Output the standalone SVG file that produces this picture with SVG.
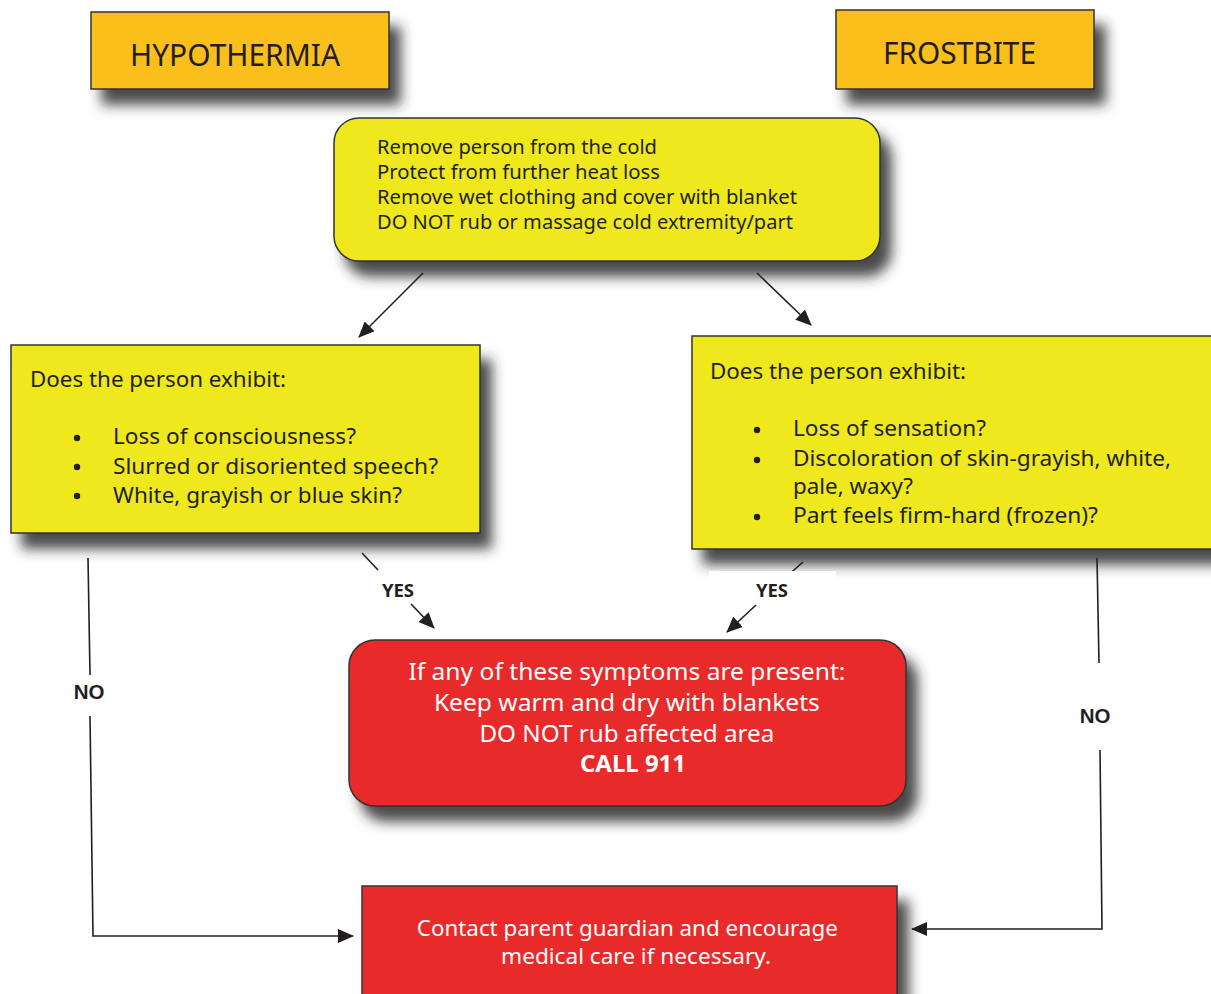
<svg xmlns="http://www.w3.org/2000/svg" width="1211" height="994" viewBox="0 0 1211 994">
  <defs>
    <filter id="shadow" x="-10%" y="-20%" width="130%" height="170%">
      <feGaussianBlur in="SourceAlpha" stdDeviation="6.5"/>
      <feOffset dx="11" dy="15" result="blur"/>
      <feFlood flood-color="#2a2a2a" flood-opacity="0.85"/>
      <feComposite in2="blur" operator="in" result="sh"/>
      <feMerge>
        <feMergeNode in="sh"/>
        <feMergeNode in="SourceGraphic"/>
      </feMerge>
    </filter>
    <marker id="arrow" markerUnits="userSpaceOnUse" markerWidth="18" markerHeight="14" refX="15" refY="7" orient="auto">
      <path d="M0,0 L16,7 L0,14 Z" fill="#231f20"/>
    </marker>
  </defs>
  <style>
    .title { fill: #fbbf1c; stroke: #333; stroke-width: 1.5; }
    .step { fill: #efe81a; stroke: #333; stroke-width: 1.5; }
    .alert { fill: #e8292b; stroke: #333; stroke-width: 1.5; }
    .t { font-family: "Noto Sans", "Open Sans", sans-serif; fill: #231f20; }
    .w { font-family: "Noto Sans", "Open Sans", sans-serif; fill: #ffffff; }
    .lbl { font-family: "Noto Sans", "Liberation Sans", sans-serif; font-weight: bold; font-size: 18.5px; fill: #231f20; }
    .no { font-family: "Liberation Sans", Arial, sans-serif; font-weight: bold; font-size: 20.5px; fill: #231f20; }
    .line { fill: none; stroke: #231f20; stroke-width: 1.6; }
  </style>
  <rect width="1211" height="994" fill="#ffffff"/>

  <g id="hypothermia">
    <rect class="title" x="91" y="12" width="298" height="77" filter="url(#shadow)"/>
    <text class="t" x="130" y="66" font-size="31" textLength="210" lengthAdjust="spacingAndGlyphs">HYPOTHERMIA</text>
  </g>

  <g id="frostbite">
    <rect class="title" x="836" y="10" width="258" height="79" filter="url(#shadow)"/>
    <text class="t" x="883" y="64" font-size="31" textLength="153" lengthAdjust="spacingAndGlyphs">FROSTBITE</text>
  </g>

  <g id="first-aid">
    <rect class="step" x="334" y="118" width="546" height="143" rx="25" filter="url(#shadow)"/>
    <text class="t" font-size="20">
      <tspan x="377" y="154" textLength="280" lengthAdjust="spacingAndGlyphs">Remove person from the cold</tspan>
      <tspan x="377" y="179" textLength="283" lengthAdjust="spacingAndGlyphs">Protect from further heat loss</tspan>
      <tspan x="377" y="204" textLength="420" lengthAdjust="spacingAndGlyphs">Remove wet clothing and cover with blanket</tspan>
      <tspan x="377" y="229" textLength="416" lengthAdjust="spacingAndGlyphs">DO NOT rub or massage cold extremity/part</tspan>
    </text>
  </g>

  <g id="hypothermia-check">
    <rect class="step" x="11" y="345" width="469" height="188" filter="url(#shadow)"/>
    <text class="t" font-size="21">
      <tspan x="30" y="387" textLength="256" lengthAdjust="spacingAndGlyphs">Does the person exhibit:</tspan>
      <tspan x="113" y="444" textLength="243" lengthAdjust="spacingAndGlyphs">Loss of consciousness?</tspan>
      <tspan x="113" y="474" textLength="325" lengthAdjust="spacingAndGlyphs">Slurred or disoriented speech?</tspan>
      <tspan x="113" y="503" textLength="289" lengthAdjust="spacingAndGlyphs">White, grayish or blue skin?</tspan>
    </text>
    <circle cx="77" cy="438" r="3.2" fill="#231f20"/>
    <circle cx="77" cy="467" r="3.2" fill="#231f20"/>
    <circle cx="77" cy="496" r="3.2" fill="#231f20"/>
  </g>

  <g id="frostbite-check">
    <rect class="step" x="692" y="336" width="530" height="213" filter="url(#shadow)"/>
    <text class="t" font-size="21">
      <tspan x="710" y="379" textLength="256" lengthAdjust="spacingAndGlyphs">Does the person exhibit:</tspan>
      <tspan x="793" y="436" textLength="193" lengthAdjust="spacingAndGlyphs">Loss of sensation?</tspan>
      <tspan x="793" y="466" textLength="378" lengthAdjust="spacingAndGlyphs">Discoloration of skin-grayish, white,</tspan>
      <tspan x="793" y="494" textLength="120" lengthAdjust="spacingAndGlyphs">pale, waxy?</tspan>
      <tspan x="793" y="523" textLength="305" lengthAdjust="spacingAndGlyphs">Part feels firm-hard (frozen)?</tspan>
    </text>
    <circle cx="757" cy="430" r="3.2" fill="#231f20"/>
    <circle cx="757" cy="460" r="3.2" fill="#231f20"/>
    <circle cx="757" cy="517" r="3.2" fill="#231f20"/>
  </g>

  <g id="emergency">
    <rect class="alert" x="349" y="640" width="557" height="166" rx="26" filter="url(#shadow)"/>
    <text class="w" font-size="24" text-anchor="middle">
      <tspan x="630" y="680" textLength="437" lengthAdjust="spacingAndGlyphs">If any of these symptoms are present:</tspan>
      <tspan x="630" y="711" textLength="386" lengthAdjust="spacingAndGlyphs">Keep warm and dry with blankets</tspan>
      <tspan x="630" y="742" textLength="295" lengthAdjust="spacingAndGlyphs">DO NOT rub affected area</tspan>
      <tspan x="633" y="772" font-weight="bold" textLength="106" lengthAdjust="spacingAndGlyphs">CALL 911</tspan>
    </text>
  </g>

  <g id="contact">
    <rect class="alert" x="362" y="886" width="535" height="130" filter="url(#shadow)"/>
    <text class="w" font-size="21" text-anchor="middle">
      <tspan x="630" y="936" textLength="421" lengthAdjust="spacingAndGlyphs">Contact parent guardian and encourage</tspan>
      <tspan x="636" y="964" textLength="270" lengthAdjust="spacingAndGlyphs">medical care if necessary.</tspan>
    </text>
  </g>

  <g id="connectors">
    <line class="line" x1="423" y1="273" x2="359" y2="337" marker-end="url(#arrow)"/>
    <line class="line" x1="757" y1="273" x2="811" y2="325" marker-end="url(#arrow)"/>

    <line class="line" x1="362" y1="553" x2="378" y2="570"/>
    <line class="line" x1="411" y1="604" x2="434" y2="628" marker-end="url(#arrow)"/>
    <text class="lbl" x="398" y="597" text-anchor="middle">YES</text>

    <line class="line" x1="803" y1="562" x2="785" y2="578"/>
    <rect x="709" y="571" width="127" height="22" fill="#ffffff"/>
    <line class="line" x1="756" y1="605" x2="727" y2="632" marker-end="url(#arrow)"/>
    <text class="lbl" x="772" y="597" text-anchor="middle">YES</text>

    <line class="line" x1="88" y1="558" x2="90" y2="675"/>
    <text class="no" x="89" y="699" text-anchor="middle">NO</text>
    <polyline class="line" points="90,716 93,936 353,936" marker-end="url(#arrow)"/>

    <line class="line" x1="1097" y1="558" x2="1099" y2="663"/>
    <text class="no" x="1095" y="723" text-anchor="middle">NO</text>
    <polyline class="line" points="1100,750 1102,929 912,929" marker-end="url(#arrow)"/>
  </g>
</svg>
